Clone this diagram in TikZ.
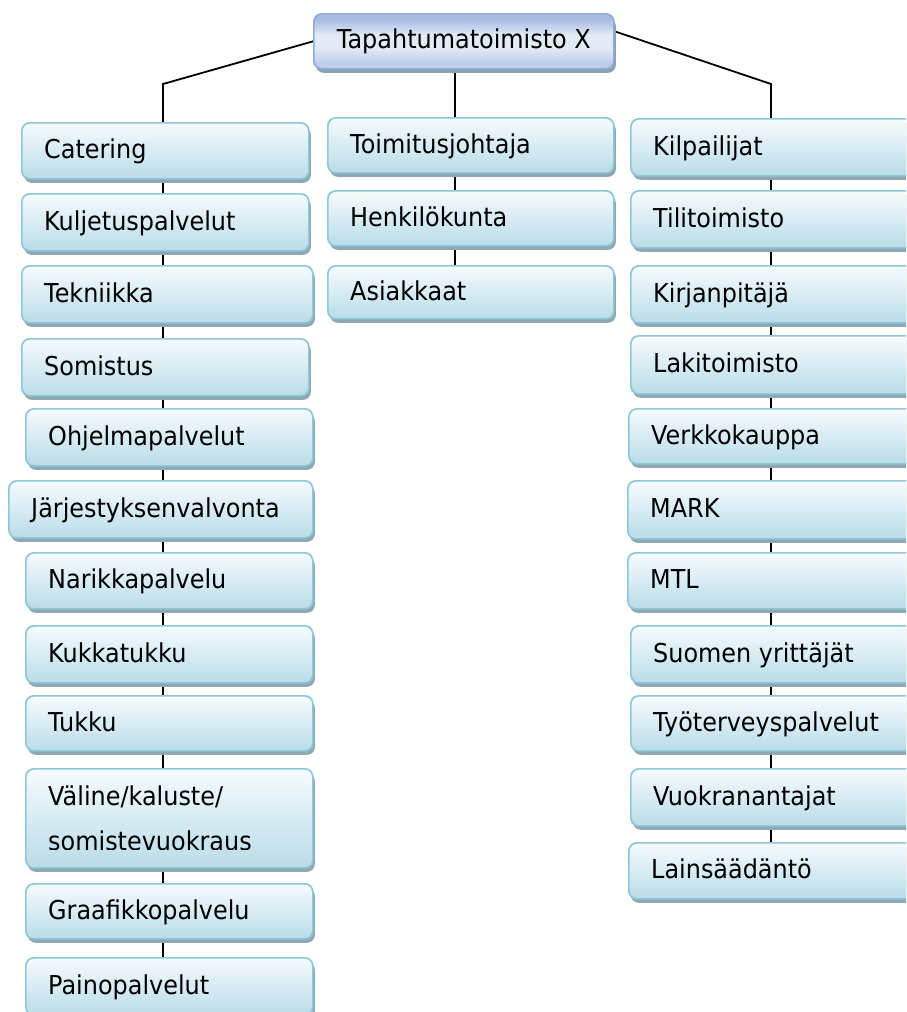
\documentclass[tikz,border=0pt]{standalone}
\usepackage{fontspec}
\setmainfont{DejaVu Sans}[FakeStretch=0.92]
\usetikzlibrary{shadows,backgrounds}

\definecolor{boxedge}{HTML}{8CC8DA}
\definecolor{boxtop}{HTML}{F6FBFD}
\definecolor{boxbottom}{HTML}{B9DCE8}
\definecolor{boxshade}{HTML}{8EA7B1}
\definecolor{rootedge}{HTML}{8FACD6}
\definecolor{roottop}{HTML}{A6BDE0}
\definecolor{rootmid}{HTML}{E2EAF5}
\definecolor{rootbottom}{HTML}{BCCEEA}
\definecolor{rootshade}{HTML}{8C9FB9}

% darker band at the top, light band in the lower third
\pgfdeclareverticalshading{rootshading}{100bp}{%
  color(0bp)=(rootbottom); color(30bp)=(rootbottom); color(44bp)=(rootmid);
  color(56bp)=(rootmid); color(70bp)=(roottop); color(100bp)=(roottop)}

\tikzset{
  entrybox/.style={draw=boxedge, line width=1.7pt, rounded corners=8pt,
    top color=boxtop, bottom color=boxbottom,
    drop shadow={shadow xshift=2pt, shadow yshift=-4pt, fill=boxshade, opacity=1},
    inner sep=0pt},
  rootbox/.style={draw=rootedge, line width=1.7pt, rounded corners=8pt,
    shading=rootshading,
    drop shadow={shadow xshift=2pt, shadow yshift=-4pt, fill=rootshade, opacity=1},
    inner sep=0pt, align=center,
    font=\fontsize{26}{30}\selectfont},
  link/.style={draw=black, line width=1.8pt},
  plaintext/.style={inner sep=0pt, anchor=base west, font=\fontsize{26}{30}\selectfont}
}

% \orgbox{name}{x0}{y0}{x1}{y1}{label}: box given by its corners (y downward), label left-aligned
\newcommand\orgbox[6]{%
  \pgfmathsetmacro\obw{#4-#2}%
  \pgfmathsetmacro\obh{#5-#3}%
  \node[entrybox, minimum width=\obw pt, minimum height=\obh pt, anchor=north west]
    (#1) at (#2,-#3) {};
  \node[plaintext] (#1-label) at ([xshift=23pt, yshift=-8pt]#1.west) {#6};}

\begin{document}
\begin{tikzpicture}[x=1pt,y=1pt]
\useasboundingbox (0,0) rectangle (906,-1012);
\clip (0,0) rectangle (906,-1012);

% spine positions of the three columns
\coordinate (spL) at (163,0);
\coordinate (spM) at (455,0);
\coordinate (spR) at (771,0);

\node[rootbox, minimum width=300pt, minimum height=55pt, anchor=north west]
  (root) at (313,-13) {Tapahtumatoimisto X};

% left column: suppliers
\orgbox{cat}{21}{122}{308}{178}{Catering}
\orgbox{kul}{21}{193}{308}{250}{Kuljetuspalvelut}
\orgbox{tek}{21}{265}{312}{322}{Tekniikka}
\orgbox{som}{21}{338}{308}{395}{Somistus}
\orgbox{ohj}{25}{408}{312}{465}{Ohjelmapalvelut}
\orgbox{jar}{8}{480}{312}{537}{Järjestyksenvalvonta}
\orgbox{nar}{25}{552}{312}{608}{Narikkapalvelu}
\orgbox{kuk}{25}{625}{312}{682}{Kukkatukku}
\orgbox{tuk}{25}{695}{312}{750}{Tukku}
\orgbox{val}{25}{768}{312}{867}{}
\orgbox{gra}{25}{883}{312}{938}{Graafikkopalvelu}
\orgbox{pai}{25}{957}{312}{1014}{Painopalvelut}

\node[plaintext] (valA) at (48,-805) {Väline/kaluste/};
\begin{scope}
  \clip (30,-820) rectangle (300,-849);
  \node[plaintext] (valB) at (48,-850) {somistevuokraus};
\end{scope}

% middle column: own organisation
\orgbox{toi}{327}{117}{613}{172}{Toimitusjohtaja}
\orgbox{hen}{327}{190}{613}{245}{Henkilökunta}
\orgbox{asi}{327}{265}{613}{318}{Asiakkaat}

% right column: other stakeholders
\orgbox{kil}{630}{118}{922}{175}{Kilpailijat}
\orgbox{til}{630}{190}{922}{247}{Tilitoimisto}
\orgbox{kir}{630}{265}{922}{322}{Kirjanpitäjä}
\orgbox{lak}{630}{335}{922}{393}{Lakitoimisto}
\orgbox{ver}{628}{408}{922}{463}{Verkkokauppa}
\orgbox{mar}{627}{480}{922}{538}{MARK}
\orgbox{mtl}{627}{552}{922}{608}{MTL}
\orgbox{suo}{630}{625}{922}{682}{Suomen yrittäjät}
\orgbox{tyo}{630}{695}{922}{750}{Työterveyspalvelut}
\orgbox{vuo}{630}{768}{922}{825}{Vuokranantajat}
\orgbox{lai}{628}{842}{922}{898}{Lainsäädäntö}

\begin{scope}[on background layer]
  \fill[white] (0,0) rectangle (906,-1012);
  % branches from the root
  \draw[link] (root.west) -- (163,-84) -- (cat.north -| spL);
  \draw[link] ([yshift=10pt]root.east) -- (771,-84) -- (kil.north -| spR);
  \draw[link] (root.south -| spM) -- (toi.north -| spM);
  % left chain
  \foreach \a/\b in {cat/kul,kul/tek,tek/som,som/ohj,ohj/jar,jar/nar,nar/kuk,kuk/tuk,tuk/val,val/gra,gra/pai}
    \draw[link] (\a.south -| spL) -- (\b.north -| spL);
  % middle chain
  \foreach \a/\b in {toi/hen,hen/asi}
    \draw[link] (\a.south -| spM) -- (\b.north -| spM);
  % right chain
  \foreach \a/\b in {kil/til,til/kir,kir/lak,lak/ver,ver/mar,mar/mtl,mtl/suo,suo/tyo,tyo/vuo,vuo/lai}
    \draw[link] (\a.south -| spR) -- (\b.north -| spR);
\end{scope}
\end{tikzpicture}
\end{document}
